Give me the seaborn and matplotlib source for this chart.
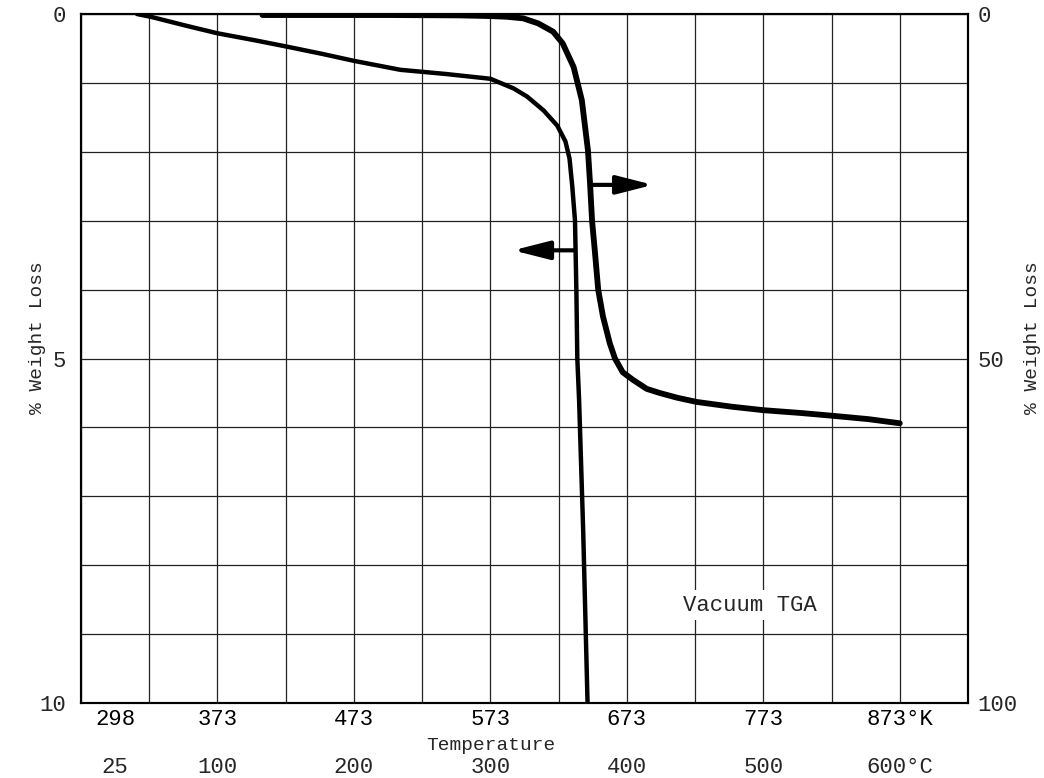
import numpy as np
import pandas as pd
import matplotlib
matplotlib.use('Agg')
import matplotlib.pyplot as plt
import seaborn as sns

sns.set_style('white')
plt.rcParams['font.family'] = ['Liberation Mono', 'DejaVu Sans Mono']

# curve read on left axis (% weight loss 0-10)
left_T = [314, 324, 350, 373, 400, 423, 450, 473, 507, 540, 573, 590, 600, 612,
          622, 628, 631, 633, 635, 636, 636.7, 638, 641, 644.2]
left_loss = [0, 0.04, 0.17, 0.28, 0.38, 0.47, 0.58, 0.68, 0.81, 0.87, 0.94, 1.08, 1.2, 1.4,
             1.62, 1.85, 2.1, 2.5, 3.0, 4.0, 5.0, 5.6, 7.5, 10]

# curve read on right axis (% weight loss 0-100)
right_T = [406, 450, 500, 550, 573, 585, 597, 608, 619, 626, 634, 640, 644.5, 646,
           647.5, 649.5, 652, 655.5, 660.5, 664.3, 670, 677.5, 687.5, 697, 710, 724,
           750, 773, 800, 823, 850, 873]
right_loss = [0.15, 0.15, 0.15, 0.2, 0.3, 0.4, 0.63, 1.36, 2.57, 4.27, 7.7, 12.5, 19.8, 24.5,
              30, 34.3, 40, 43.9, 47.8, 50, 52.0, 53.1, 54.4, 55.0, 55.7, 56.3,
              57.0, 57.5, 57.9, 58.3, 58.8, 59.4]

kelvin_ticks = [298, 373, 473, 573, 673, 773, 873]
celsius_ticks = [25, 100, 200, 300, 400, 500, 600]
left_ticks = [0, 5, 10]
right_ticks = [0, 50, 100]

# arrows: (start T, tip T, level)
left_arrow = (635, 589.6, 3.43)
right_arrow = (648.2, 692.2, 24.8)

df1 = pd.DataFrame({'T': left_T, 'loss': left_loss})
df2 = pd.DataFrame({'T': right_T, 'loss': right_loss})

fig = plt.figure(figsize=(10.44, 7.78), dpi=100)
ax = fig.add_axes([0.0776, 0.0964, 0.8496, 0.8856])
ax2 = ax.twinx()

sns.lineplot(x='T', y='loss', data=df1, ax=ax, color='black', lw=3.2, sort=False)
sns.lineplot(x='T', y='loss', data=df2, ax=ax2, color='black', lw=4.2, sort=False)

ax.set_xlim(273, 923)
ax.set_ylim(10, 0)
ax2.set_ylim(100, 0)

# grid on every 50 K and every 1 %
ax.xaxis.remove_overlapping_locs = False
ax.yaxis.remove_overlapping_locs = False
ax.set_xticks(np.arange(273, 924, 50), minor=True)
ax.set_yticks(np.arange(0, 11, 1), minor=True)
ax.grid(which='minor', color='#222222', lw=0.9)
ax.grid(which='major', visible=False)
ax2.grid(False)
ax.tick_params(which='minor', length=0)

k_labels = [str(k) for k in kelvin_ticks]
k_labels[-1] = k_labels[-1] + '°K'
ax.set_xticks(kelvin_ticks)
ax.set_xticklabels(k_labels, fontsize=16)
ax.tick_params(axis='x', which='major', direction='in', length=18.5, width=1, pad=4, colors='black')

# celsius row underneath
sec = ax.secondary_xaxis('bottom', functions=(lambda k: k - 273, lambda c: c + 273))
c_labels = [str(c) for c in celsius_ticks]
c_labels[-1] = c_labels[-1] + '°C'
sec.set_xticks(celsius_ticks)
sec.set_xticklabels(c_labels, fontsize=16)
sec.tick_params(axis='x', length=0, pad=39)
sec.spines['bottom'].set_visible(False)

ax.set_yticks(left_ticks)
ax.set_yticklabels([str(v) for v in left_ticks], fontsize=16)
ax.tick_params(axis='y', which='major', length=0, pad=11)
ax2.set_yticks(right_ticks)
ax2.set_yticklabels([str(v) for v in right_ticks], fontsize=16)
ax2.tick_params(axis='y', length=0, pad=7)

ax.set_xlabel('Temperature', fontsize=14)
ax.xaxis.set_label_coords(0.462, -0.061)
ax.xaxis.label.set_va('center')
ax.set_ylabel('% Weight Loss', fontsize=14)
ax.yaxis.set_label_coords(-0.0496, 0.53)
ax.yaxis.label.set_va('center')
ax2.set_ylabel('% Weight Loss', fontsize=14, rotation=90)
ax2.yaxis.set_label_coords(1.073, 0.53)
ax2.yaxis.label.set_va('center')

for a in (ax, ax2):
    for s in a.spines.values():
        s.set_color('black')
        s.set_linewidth(1.5)

arrow_style = dict(arrowstyle='-|>,head_length=1.1,head_width=0.28', lw=3.0,
                   color='black', mutation_scale=20, shrinkA=0, shrinkB=0)
ax.annotate('', xy=(left_arrow[1], left_arrow[2]), xytext=(left_arrow[0], left_arrow[2]),
            arrowprops=arrow_style)
ax2.annotate('', xy=(right_arrow[1], right_arrow[2]), xytext=(right_arrow[0], right_arrow[2]),
             arrowprops=arrow_style)

ax.text(763, 8.58, 'Vacuum TGA', fontsize=16, ha='center', va='center', zorder=3,
        bbox=dict(facecolor='white', edgecolor='none', pad=3))

fig.savefig('out.png', dpi=100)
